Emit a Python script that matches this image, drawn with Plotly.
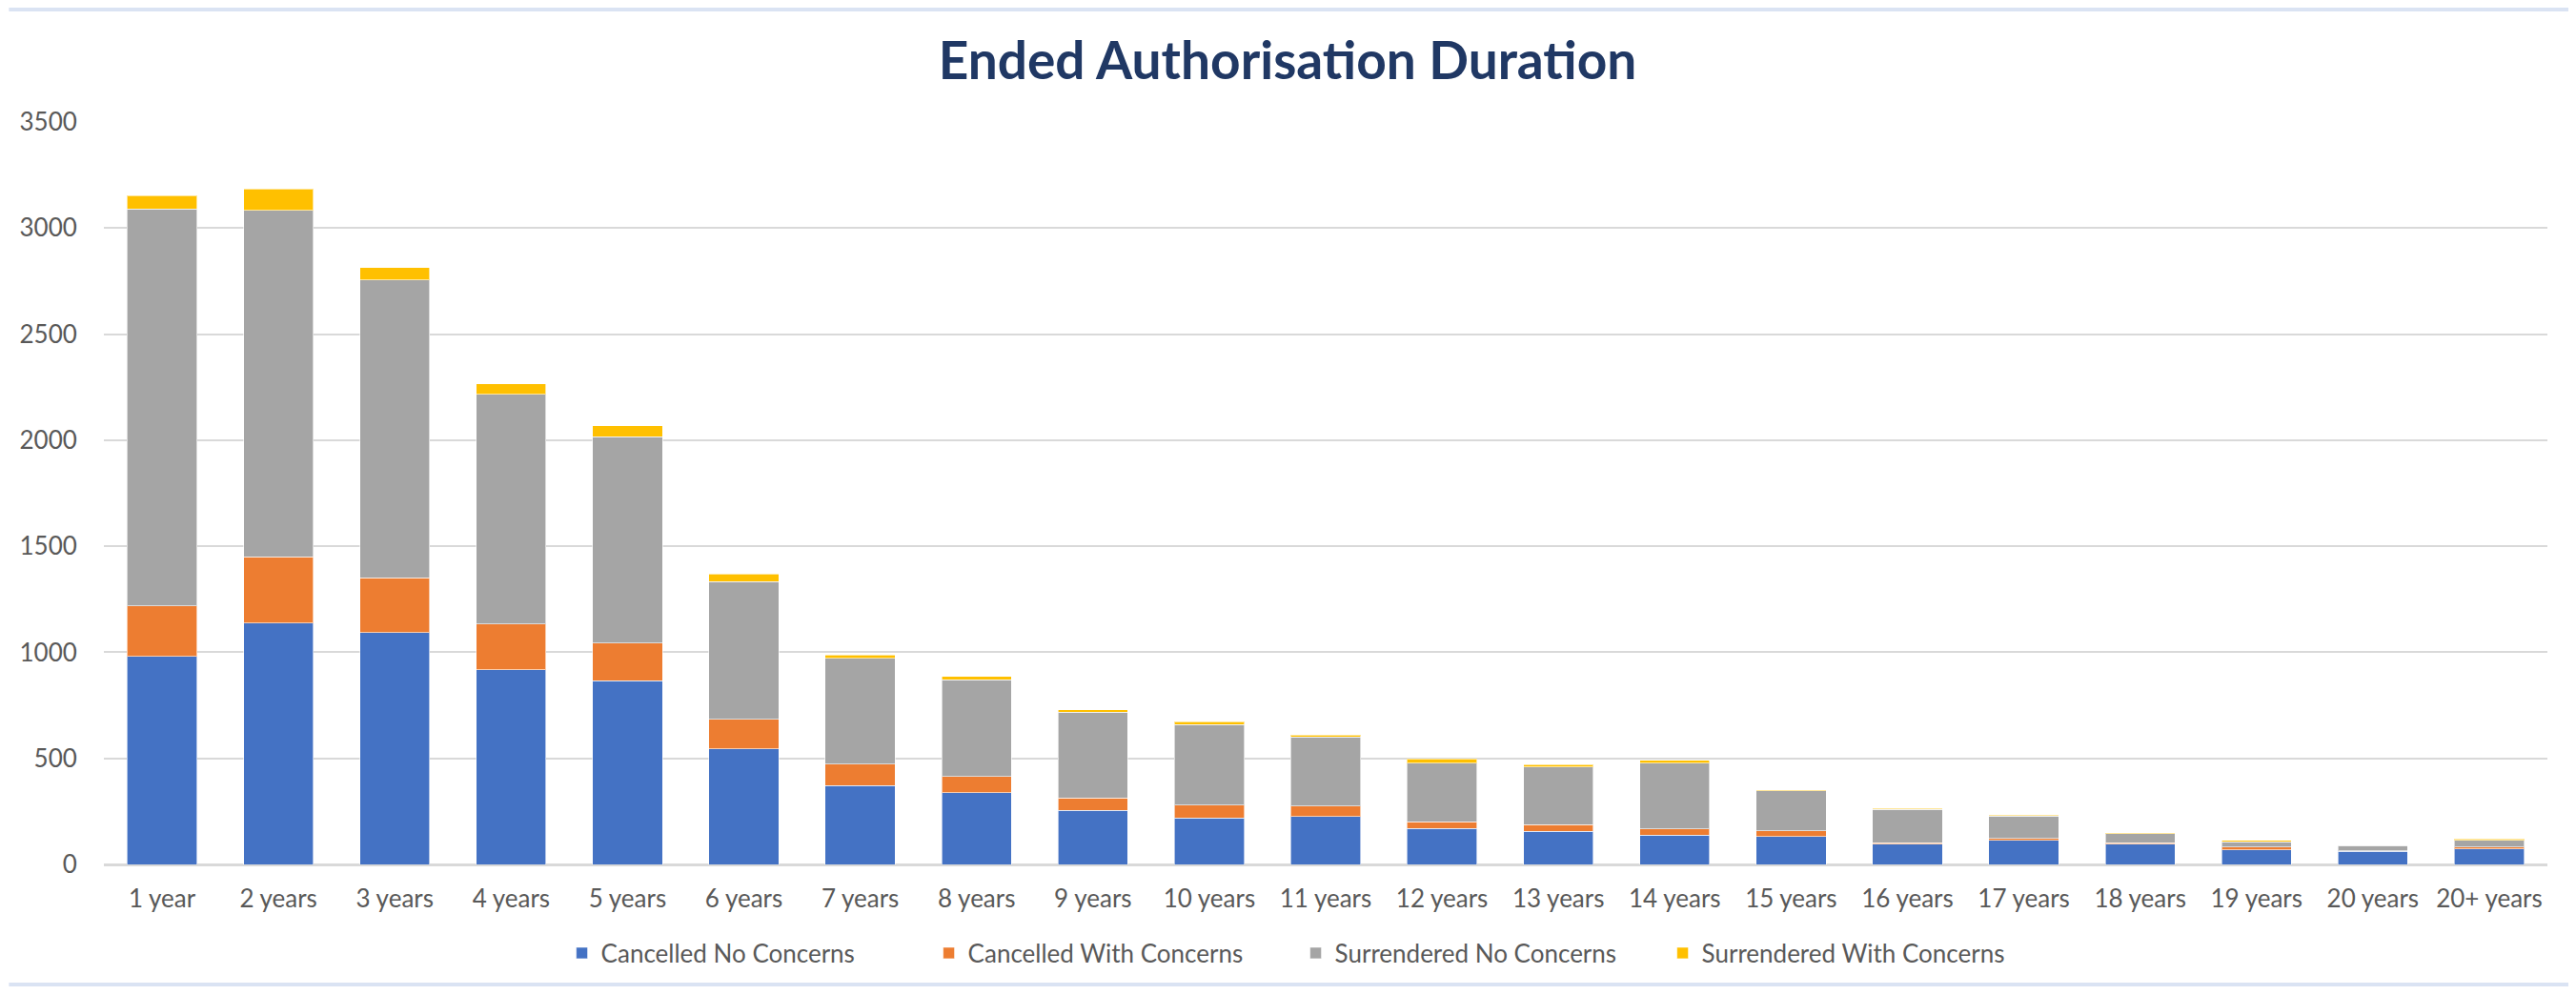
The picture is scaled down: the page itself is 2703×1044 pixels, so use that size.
import plotly.graph_objects as go

categories = ["1 year", "2 years", "3 years", "4 years", "5 years", "6 years", "7 years",
              "8 years", "9 years", "10 years", "11 years", "12 years", "13 years", "14 years",
              "15 years", "16 years", "17 years", "18 years", "19 years", "20 years", "20+ years"]

cancelled_no = [980, 1138, 1093, 917, 867, 545, 371, 338, 256, 219, 226, 170, 156, 138, 132, 95, 114, 95, 69, 62, 74]
cancelled_with = [238, 312, 259, 216, 177, 139, 101, 76, 57, 61, 50, 31, 32, 30, 26, 7, 8, 7, 12, 1, 7]
surrendered_no = [1871, 1634, 1403, 1084, 973, 649, 499, 456, 404, 380, 324, 276, 271, 309, 190, 158, 105, 42, 26, 25, 33]
surrendered_with = [63, 101, 59, 49, 52, 37, 16, 16, 12, 12, 9, 21, 12, 13, 4, 4, 6, 6, 6, 0, 6]

series = [
    ("Cancelled No Concerns", cancelled_no, "#4472C4"),
    ("Cancelled With Concerns", cancelled_with, "#ED7D31"),
    ("Surrendered No Concerns", surrendered_no, "#A5A5A5"),
    ("Surrendered With Concerns", surrendered_with, "#FFC000"),
]

# page offset introduced by the default 8px body margin
OFF = 8
W, H = 2703 - 2 * OFF, 1044 - 2 * OFF
# target page coordinates
plot_left, plot_right, plot_top, plot_bottom = 100, 2673, 128, 907
ML = plot_left - OFF
MT = plot_top - OFF
MR = W - (plot_right - OFF)
MB = H - (plot_bottom - OFF)
pw = W - ML - MR
ph = H - MT - MB


def py(page_y):
    """page y pixel -> paper y fraction"""
    return (plot_bottom - page_y) / ph


def px(page_x):
    return (page_x - plot_left) / pw


fig = go.Figure()
for name, vals, color in series:
    fig.add_trace(go.Bar(
        x=categories, y=vals, name=name,
        marker=dict(color=color, line=dict(color="rgba(255,255,255,0.6)", width=1)),
    ))

font_family = "Lato, Calibri, Carlito, sans-serif"
fig.update_layout(
    width=W, height=H,
    margin=dict(l=ML, r=MR, t=MT, b=MB, pad=0),
    paper_bgcolor="white", plot_bgcolor="white",
    barmode="stack", bargap=0.4,
    font=dict(family=font_family, size=26, color="#595959"),
    title=dict(text="<b>Ended Authorisation Duration</b>",
               font=dict(family=font_family, size=55, color="#203864"),
               x=(1351 - OFF) / W, xanchor="center", y=1 - (64 - OFF) / H, yanchor="middle"),
    xaxis=dict(showgrid=False, showline=True, linecolor="#D9D9D9", linewidth=2,
               ticks="outside", ticklen=12, tickcolor="rgba(0,0,0,0)",
               tickfont=dict(size=26, color="#595959")),
    yaxis=dict(range=[0, 3500], dtick=500, showgrid=True, gridcolor="#D9D9D9", gridwidth=2,
               zeroline=True, zerolinecolor="#D9D9D9", zerolinewidth=2,
               ticks="outside", ticklen=22, tickcolor="rgba(0,0,0,0)",
               tickfont=dict(size=26, color="#595959")),
    legend=dict(orientation="h", x=px(1356), xanchor="center",
                y=py(1000), yanchor="middle", entrywidth=340,
                font=dict(size=26, color="#595959"), traceorder="normal"),
    shapes=[
        dict(type="line", xref="paper", yref="paper", x0=px(0), x1=px(2703),
             y0=py(10), y1=py(10), line=dict(color="#DAE3F3", width=4)),
        dict(type="line", xref="paper", yref="paper", x0=px(0), x1=px(2703),
             y0=py(1033), y1=py(1033), line=dict(color="#DAE3F3", width=4)),
    ],
)

fig.write_html("out.html")
